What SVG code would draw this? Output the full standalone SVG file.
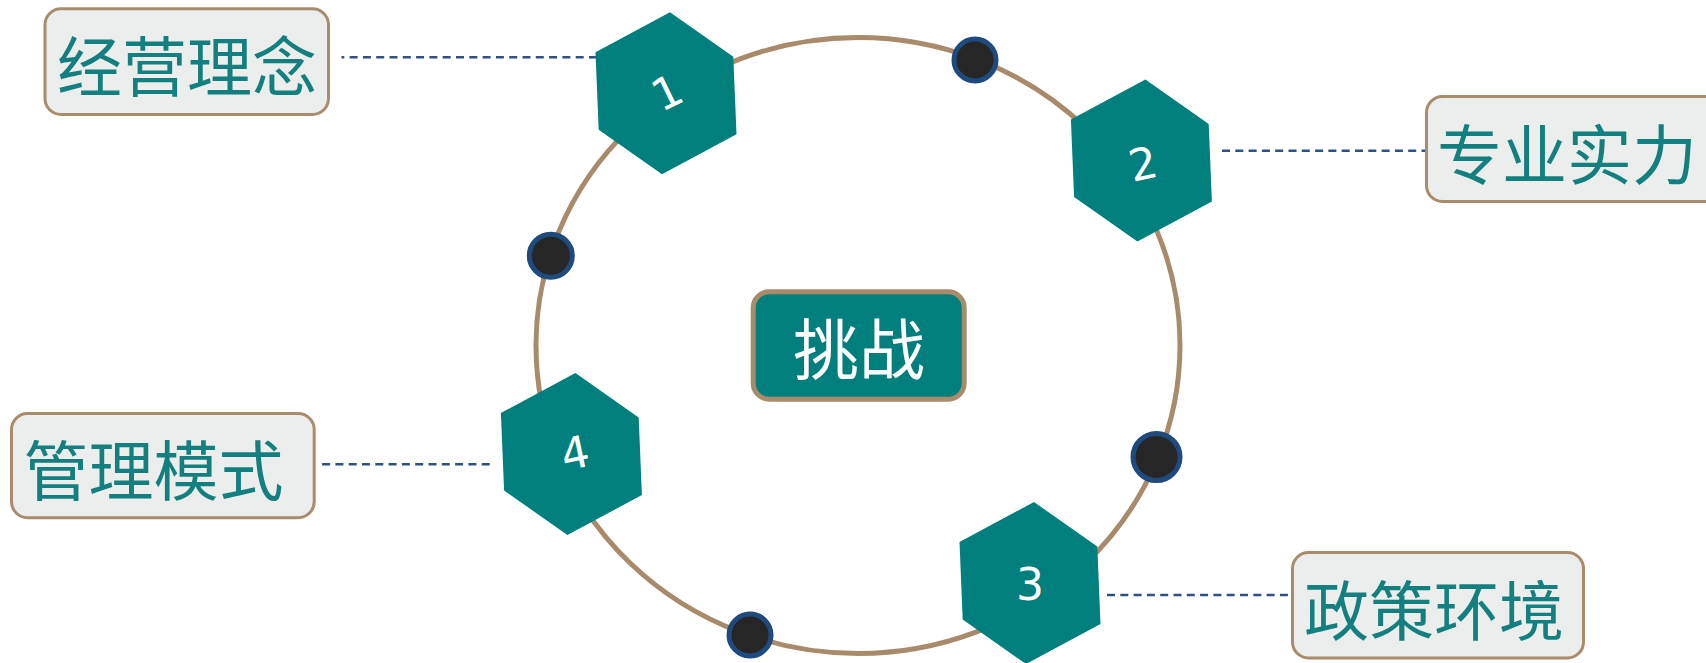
<svg xmlns="http://www.w3.org/2000/svg" width="1706" height="663" viewBox="0 0 1706 663">
<style>
.box{fill:#eceeed;stroke:#a88c6c;stroke-width:3}
.lbl{font-family:"Noto Sans CJK SC","Liberation Sans",sans-serif;font-size:65px;fill:#147f7f;text-anchor:middle;dominant-baseline:central}
.hex{fill:#007f7d}
.num{font-family:"DejaVu Sans","Liberation Sans",sans-serif;font-size:44px;fill:#ffffff;text-anchor:middle;dominant-baseline:central}
.dash{stroke:#2f5283;stroke-width:2.5;stroke-dasharray:8 5.3;fill:none}
.dot{fill:#262626;stroke:#1f4a7d;stroke-width:5}
</style>
<defs>
<polygon id="hexshape" points="4,-81 67.3,-36.5 70.5,41 -4,81 -67.3,36.5 -70.5,-41"/>
</defs>
<rect width="1706" height="663" fill="#ffffff"/>
<g id="ring">
<ellipse cx="858" cy="345.5" rx="322" ry="308" fill="none" stroke="#a88b6b" stroke-width="5"/>
</g>
<g id="connectors">
<line class="dash" x1="597" y1="57.3" x2="341.5" y2="57.3"/>
<line class="dash" x1="1222" y1="150.7" x2="1425" y2="150.7"/>
<line class="dash" x1="1107" y1="595" x2="1291" y2="595"/>
<line class="dash" x1="489.7" y1="464.3" x2="320" y2="464.3"/>
</g>
<g id="dots">
<circle class="dot" cx="975" cy="60" r="21"/>
<circle class="dot" cx="550.8" cy="255.8" r="21.5"/>
<circle class="dot" cx="1156.5" cy="457" r="23.5"/>
<circle class="dot" cx="750" cy="635" r="21"/>
</g>
<g id="hex1">
<use href="#hexshape" class="hex" x="666" y="93.3"/>
<text class="num" transform="translate(667,92.5) rotate(-26)">1</text>
</g>
<g id="hex2">
<use href="#hexshape" class="hex" x="1141.4" y="160.6"/>
<text class="num" transform="translate(1143,164) rotate(-12)">2</text>
</g>
<g id="hex3">
<use href="#hexshape" class="hex" x="1030" y="583"/>
<text class="num" transform="translate(1030,584)">3</text>
</g>
<g id="hex4">
<use href="#hexshape" class="hex" x="571.4" y="454"/>
<text class="num" transform="translate(575,453) rotate(-12)">4</text>
</g>
<g id="center">
<rect x="753.2" y="291.8" width="211" height="107.4" rx="16" fill="#007f7d" stroke="#a88b6b" stroke-width="5"/>
<text x="859" y="344.5" font-family="Noto Sans CJK SC, Liberation Sans, sans-serif" font-size="66" fill="#ffffff" text-anchor="middle" dominant-baseline="central">挑战</text>
</g>
<g id="box1">
<rect class="box" x="45" y="8.8" width="283.5" height="105.7" rx="16"/>
<text class="lbl" x="187" y="62.5">经营理念</text>
</g>
<g id="box2">
<rect class="box" x="1426.5" y="96.5" width="300" height="105" rx="16"/>
<text class="lbl" x="1567" y="150.5">专业实力</text>
</g>
<g id="box3">
<rect class="box" x="1292.5" y="552.5" width="291" height="105.5" rx="16"/>
<text class="lbl" x="1434" y="606.5">政策环境</text>
</g>
<g id="box4">
<rect class="box" x="11.5" y="413.5" width="302.7" height="104.2" rx="16"/>
<text class="lbl" x="153.5" y="466.5">管理模式</text>
</g>
</svg>
